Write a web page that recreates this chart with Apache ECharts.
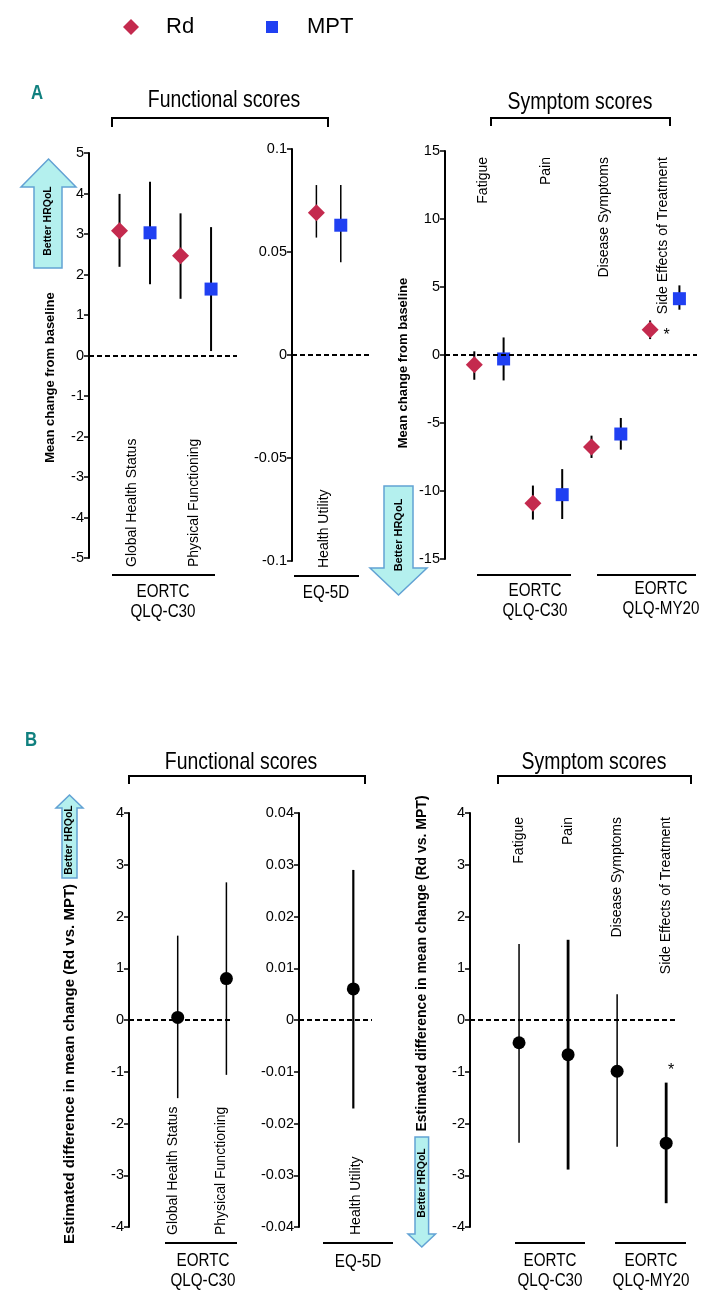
<!DOCTYPE html>
<html>
<head>
<meta charset="utf-8">
<script src="https://cdn.jsdelivr.net/npm/echarts@6/dist/echarts.min.js"></script>
<style>
  html, body { margin: 0; padding: 0; background: #fff; }
  #chart { width: 716px; height: 1303px; }
</style>
</head>
<body>
<div id="chart"></div>
<script>
// categories
const funcCats = ['Global Health Status', 'Physical Functioning'];
const eqCats = ['Health Utility'];
const symCats = ['Fatigue', 'Pain', 'Disease Symptoms', 'Side Effects of Treatment'];

// panel A - mean change from baseline
const rdFunc = [3.08, 2.46];
const rdFuncLow = [2.19, 1.40];
const rdFuncHigh = [3.99, 3.51];
const mptFunc = [3.03, 1.64];
const mptFuncLow = [1.76, 0.11];
const mptFuncHigh = [4.29, 3.17];

const rdEq = [0.069];
const rdEqLow = [0.057];
const rdEqHigh = [0.0825];
const mptEq = [0.063];
const mptEqLow = [0.045];
const mptEqHigh = [0.0825];

const rdSym = [-0.71, -10.9, -6.76, 1.86];
const rdSymLow = [-1.82, -12.1, -7.57, 1.17];
const rdSymHigh = [0.27, -9.6, -5.93, 2.54];
const mptSym = [-0.29, -10.27, -5.81, 4.14];
const mptSymLow = [-1.87, -12.06, -6.96, 3.33];
const mptSymHigh = [1.29, -8.39, -4.63, 5.12];

// panel B - estimated difference (Rd vs. MPT)
const diffFunc = [0.05, 0.8];
const diffFuncLow = [-1.51, -1.06];
const diffFuncHigh = [1.63, 2.66];
const diffEq = [0.006];
const diffEqLow = [-0.0171];
const diffEqHigh = [0.029];
const diffSym = [-0.44, -0.67, -0.99, -2.38];
const diffSymLow = [-2.37, -2.89, -2.45, -3.54];
const diffSymHigh = [1.47, 1.55, 0.5, -1.21];

// y axis ticks [min, max, step]
const yTicksA = [[-5, 5, 1], [-0.1, 0.1, 0.05], [-15, 15, 5]];
const yTicksB = [[-4, 4, 1], [-0.04, 0.04, 0.01], [-4, 4, 1]];

const RD_COLOR = '#c42a4e';
const MPT_COLOR = '#2040f2';
const ARIAL = '"Liberation Sans", Arial, sans-serif';

var chart = echarts.init(document.getElementById('chart'));

const grids = [
   { left: 89, top: 153, width: 148, height: 405 },
   { left: 292, top: 149, width: 80, height: 412 },
   { left: 445, top: 151, width: 252, height: 408 },
   { left: 129, top: 813, width: 103, height: 414 },
   { left: 299, top: 813, width: 73, height: 414 },
   { left: 470, top: 813, width: 205, height: 414 }
];
const xMax = [4.85, 3.28, 8.6, 2.115, 1.344, 4.18];

const yAxisNames = [
   { name: 'Mean change from baseline', gap: 32, size: 13, pad: [0, 44, 0, 0] },
   null,
   { name: 'Mean change from baseline', gap: 35, size: 13, pad: [0, 16, 0, 0] },
   { name: 'Estimated difference in mean change (Rd vs. MPT)', gap: 52, size: 15, pad: [0, 88, 0, 0] },
   null,
   { name: 'Estimated difference in mean change (Rd vs. MPT)', gap: 41, size: 14, pad: [0, 0, 0, 113] }
];

const xAxes = grids.map((g, i) => ({
   type: 'value', gridIndex: i, min: 0, max: xMax[i], show: false
}));

const yAxes = yTicksA.concat(yTicksB).map((t, i) => {
   const nm = yAxisNames[i];
   return {
      type: 'value', gridIndex: i, min: t[0], max: t[1], interval: t[2],
      axisLine: { show: true, lineStyle: { color: '#000', width: 2 } },
      axisTick: { show: true, length: 5, lineStyle: { color: '#000', width: 1.5 } },
      axisLabel: { color: '#000', fontSize: 14.5, fontFamily: ARIAL, margin: 5 },
      splitLine: { show: false },
      name: nm ? nm.name : '',
      nameLocation: 'middle',
      nameGap: nm ? nm.gap : 0,
      nameTextStyle: { color: '#000', fontWeight: 'bold', fontSize: nm ? nm.size : 12, fontFamily: ARIAL, padding: nm ? nm.pad : 0 }
   };
});

function errBars(grid, xs, lows, highs, widths) {
   return {
      type: 'custom', xAxisIndex: grid, yAxisIndex: grid, clip: false, silent: true, z: 2,
      data: xs.map((x, i) => [x, lows[i], highs[i]]),
      renderItem(params, api) {
         const a = api.coord([api.value(0), api.value(1)]);
         const b = api.coord([api.value(0), api.value(2)]);
         return {
            type: 'line',
            shape: { x1: a[0], y1: a[1], x2: b[0], y2: b[1] },
            style: { stroke: '#000', lineWidth: widths[params.dataIndex] }
         };
      }
   };
}

function points(grid, name, xs, vals, symbol, size, color, zeroLine) {
   const s = {
      type: 'scatter', name: name, xAxisIndex: grid, yAxisIndex: grid, z: 3,
      symbol: symbol, symbolSize: size,
      itemStyle: { color: color, opacity: 1 },
      data: xs.map((x, i) => [x, vals[i]])
   };
   if (zeroLine) {
      s.markLine = {
         silent: true, symbol: 'none', label: { show: false },
         lineStyle: { color: '#000', type: [5, 3], width: 1.8 },
         data: [{ yAxis: 0 }]
      };
   }
   return s;
}

function catLabels(grid, cats, xs, yRef, dy, align) {
   return {
      type: 'custom', xAxisIndex: grid, yAxisIndex: grid, clip: false, silent: true,
      data: cats.map((c, i) => [xs[i], yRef]),
      renderItem(params, api) {
         const p = api.coord([api.value(0), api.value(1)]);
         return {
            type: 'text', x: p[0], y: p[1] + dy, rotation: Math.PI / 2,
            style: {
               text: cats[params.dataIndex], fill: '#000', font: '14px ' + ARIAL,
               align: align, verticalAlign: 'middle'
            }
         };
      }
   };
}

// x positions on the hidden axes
const rdX2 = [1, 3], mptX2 = [2, 4];
const rdX4 = [1, 3, 5, 7], mptX4 = [2, 4, 6, 8];

const series = [
   // A: functional
   errBars(0, rdX2, rdFuncLow, rdFuncHigh, [2, 2]),
   errBars(0, mptX2, mptFuncLow, mptFuncHigh, [2, 2]),
   points(0, 'Rd', rdX2, rdFunc, 'diamond', 17, RD_COLOR, true),
   points(0, 'MPT', mptX2, mptFunc, 'rect', 13, MPT_COLOR, false),
   catLabels(0, funcCats, [1.43, 3.46], -5, 9, 'left'),
   // A: EQ-5D
   errBars(1, [1], rdEqLow, rdEqHigh, [1.5]),
   errBars(1, [2], mptEqLow, mptEqHigh, [1.5]),
   points(1, 'Rd', [1], rdEq, 'diamond', 17, RD_COLOR, true),
   points(1, 'MPT', [2], mptEq, 'rect', 13, MPT_COLOR, false),
   catLabels(1, eqCats, [1.33], -0.1, 7, 'left'),
   // A: symptoms
   errBars(2, rdX4, rdSymLow, rdSymHigh, [2, 2, 2, 2]),
   errBars(2, mptX4, mptSymLow, mptSymHigh, [2, 2, 2, 2]),
   points(2, 'Rd', rdX4, rdSym, 'diamond', 17, RD_COLOR, true),
   points(2, 'MPT', mptX4, mptSym, 'rect', 13, MPT_COLOR, false),
   catLabels(2, symCats, [1.3, 3.44, 5.43, 7.44], 15, 6, 'right'),
   // B: functional
   errBars(3, [1, 2], diffFuncLow, diffFuncHigh, [1.5, 1.5]),
   points(3, 'Difference', [1, 2], diffFunc, 'circle', 13, '#000', true),
   catLabels(3, funcCats, [0.9, 1.9], -4, 8, 'left'),
   // B: EQ-5D
   errBars(4, [1], diffEqLow, diffEqHigh, [2.2]),
   points(4, 'Difference', [1], diffEq, 'circle', 13, '#000', true),
   catLabels(4, eqCats, [1.05], -0.04, 8, 'left'),
   // B: symptoms
   errBars(5, [1, 2, 3, 4], diffSymLow, diffSymHigh, [1.5, 2.8, 1.5, 2.8]),
   points(5, 'Difference', [1, 2, 3, 4], diffSym, 'circle', 13, '#000', true),
   catLabels(5, symCats, [1, 2, 3, 4], 4, 4, 'right')
];

// significance markers
series[12].data[3] = {
   value: series[12].data[3],
   label: { show: true, formatter: '*', position: 'right', distance: 5, offset: [0, 6], color: '#000', fontSize: 16, fontFamily: ARIAL }
};
series[22].data[3] = {
   value: series[22].data[3],
   label: { show: true, formatter: '*', position: 'top', distance: 58, offset: [5, 0], color: '#000', fontSize: 16, fontFamily: ARIAL }
};

function txt(x, y, text, size, sx, extra) {
   return Object.assign({
      type: 'text', x: x, y: y, scaleX: sx,
      style: { text: text, font: size + 'px ' + ARIAL, fill: '#000', align: 'center', verticalAlign: 'middle', lineHeight: 20 }
   }, extra || {});
}
function letter(x, y, t) {
   return {
      type: 'text', x: x, y: y, scaleX: 0.8,
      style: { text: t, font: 'bold 21px ' + ARIAL, fill: '#10807f', align: 'center', verticalAlign: 'middle' }
   };
}
function bracket(x1, x2, y, drop) {
   return {
      type: 'polyline',
      shape: { points: [[x1, y + drop], [x1, y], [x2, y], [x2, y + drop]] },
      style: { stroke: '#000', lineWidth: 2, fill: null }
   };
}
function rule(x1, x2, y) {
   return { type: 'line', shape: { x1: x1, y1: y, x2: x2, y2: y }, style: { stroke: '#000', lineWidth: 2 } };
}
function arrow(pts, tx, ty, size) {
   return [
      { type: 'polygon', shape: { points: pts }, style: { fill: '#b4f0ee', stroke: '#62a2d4', lineWidth: 1.5 } },
      {
         type: 'text', x: tx, y: ty, rotation: Math.PI / 2,
         style: { text: 'Better HRQoL', font: 'bold ' + size + 'px ' + ARIAL, fill: '#000', align: 'center', verticalAlign: 'middle' }
      }
   ];
}

const G = 24, G_SX = 0.81;   // group titles
const S = 19, S_SX = 0.8;    // questionnaire names

const graphic = [
   letter(37, 93, 'A'),
   letter(31, 740, 'B'),

   txt(224, 100, 'Functional scores', G, G_SX),
   bracket(112, 328, 118, 9),
   txt(580, 102, 'Symptom scores', G, G_SX),
   bracket(491, 670, 118, 8),
   txt(241, 762, 'Functional scores', G, G_SX),
   bracket(129, 365, 776, 8),
   txt(594, 762, 'Symptom scores', G, G_SX),
   bracket(498, 691, 776, 8),

   rule(112, 215, 575), txt(163, 602, 'EORTC\nQLQ-C30', S, S_SX),
   rule(294, 359, 576), txt(326, 593, 'EQ-5D', S, S_SX),
   rule(477, 571, 575), txt(535, 601, 'EORTC\nQLQ-C30', S, S_SX),
   rule(597, 696, 575), txt(661, 599, 'EORTC\nQLQ-MY20', S, S_SX),

   rule(165, 237, 1243), txt(203, 1271, 'EORTC\nQLQ-C30', S, S_SX),
   rule(323, 393, 1243), txt(358, 1262, 'EQ-5D', S, S_SX),
   rule(515, 585, 1243), txt(550, 1271, 'EORTC\nQLQ-C30', S, S_SX),
   rule(615, 686, 1243), txt(651, 1271, 'EORTC\nQLQ-MY20', S, S_SX)
].concat(
   arrow([[48.5, 159], [76, 187], [62, 187], [62, 268], [34, 268], [34, 187], [21, 187]], 48, 221, 10.5),
   arrow([[384, 486], [413, 486], [413, 568], [427, 568], [398.5, 595], [370, 568], [384, 568]], 398.5, 535, 11),
   arrow([[69.5, 795], [83, 808], [77, 808], [77, 878], [62, 878], [62, 808], [56, 808]], 69.5, 840, 10.5),
   arrow([[415, 1137], [428.6, 1137], [428.6, 1234], [435.5, 1234], [421.8, 1247], [408, 1234], [415, 1234]], 421.8, 1183, 10.5)
);

chart.setOption({
   backgroundColor: '#fff',
   animation: false,
   legend: [
      {
         data: [{ name: 'Rd', icon: 'diamond' }], left: 123, top: 16, padding: 0,
         itemWidth: 16, itemHeight: 16, selectedMode: false,
         textStyle: { fontSize: 22, fontFamily: ARIAL, color: '#000', padding: [0, 0, 0, 22] }
      },
      {
         data: [{ name: 'MPT', icon: 'rect' }], left: 266, top: 16, padding: 0,
         itemWidth: 12, itemHeight: 12, selectedMode: false,
         textStyle: { fontSize: 22, fontFamily: ARIAL, color: '#000', padding: [0, 0, 0, 24] }
      }
   ],
   grid: grids,
   xAxis: xAxes,
   yAxis: yAxes,
   series: series,
   graphic: graphic
});
</script>
</body>
</html>
